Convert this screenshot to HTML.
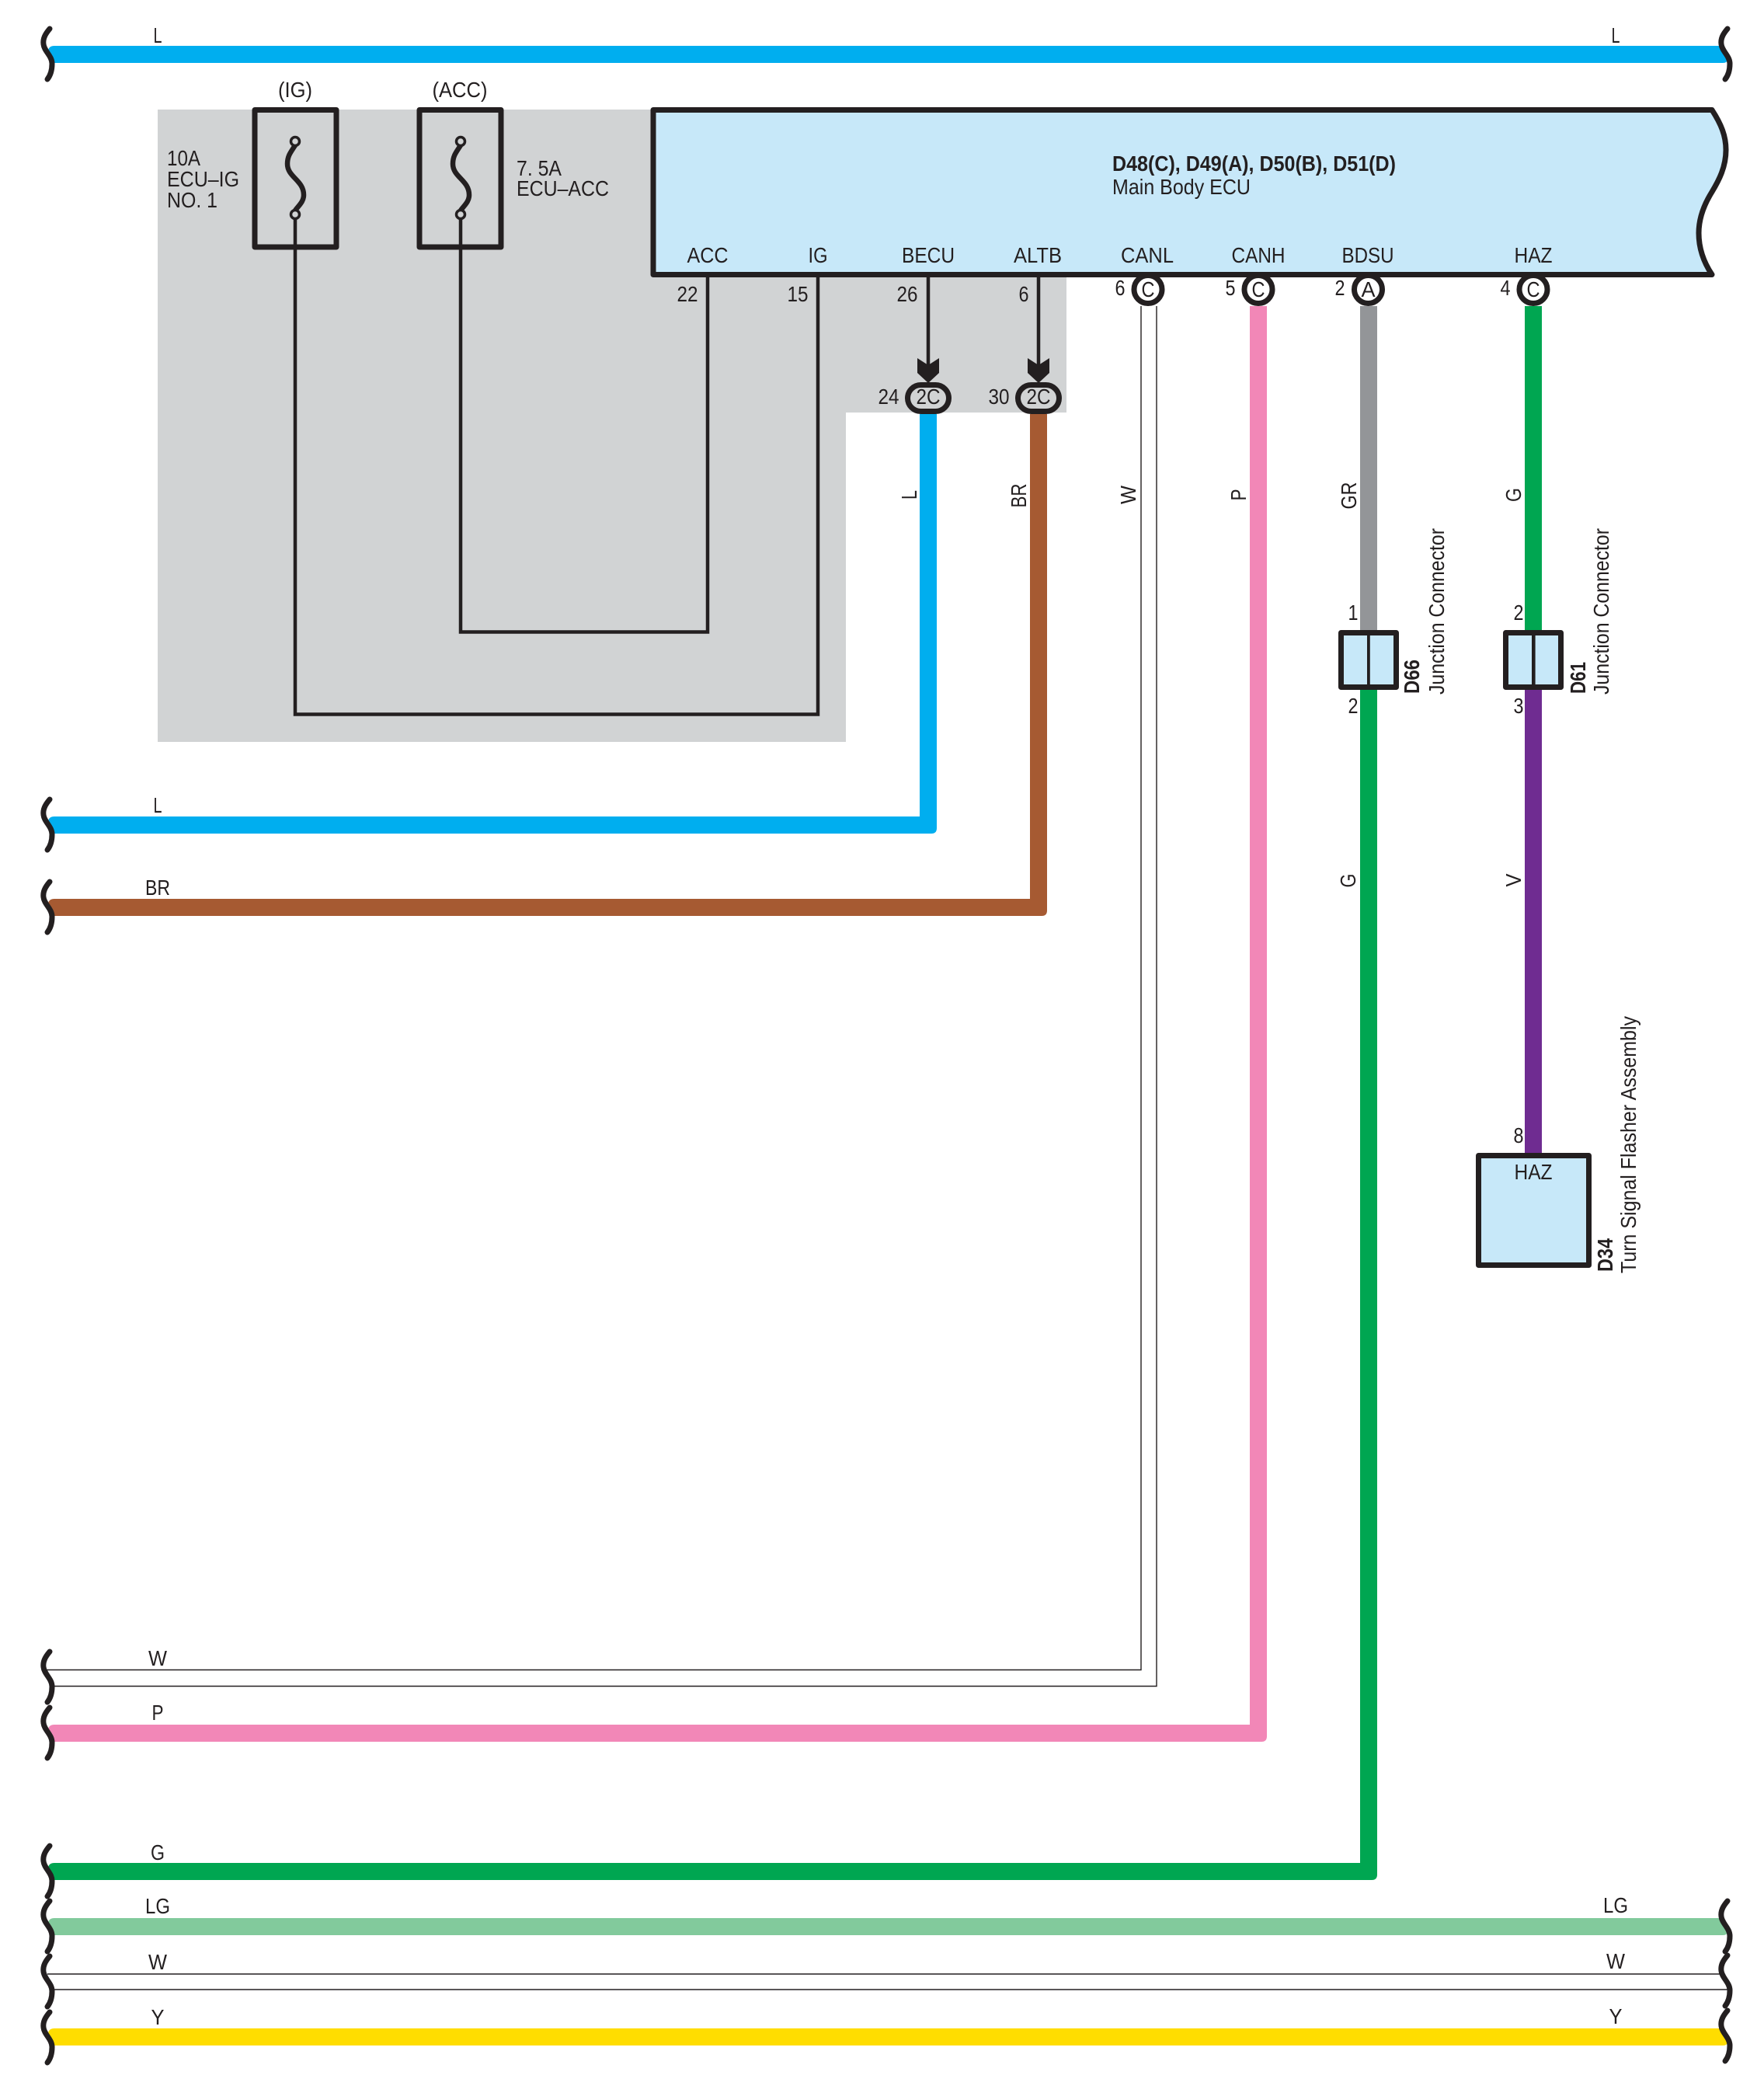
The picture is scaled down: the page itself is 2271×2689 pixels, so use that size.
<!DOCTYPE html>
<html>
<head>
<meta charset="utf-8">
<style>
html,body{margin:0;padding:0;background:#fff;}
svg{display:block;}
text{font-family:"Liberation Sans",sans-serif;font-size:27.5px;fill:#231f20;}
.m{text-anchor:middle;}
.b{font-weight:bold;}
</style>
</head>
<body>
<svg xmlns="http://www.w3.org/2000/svg" width="2271" height="2689" viewBox="0 0 2271 2689">
<defs>
<path id="sq" d="M64 -33C58 -26 55 -20 56 -13C57 -4 67 2 67 12C67 20 65 27 61 32" fill="none" stroke="#231f20" stroke-width="7" stroke-linecap="round"/>
</defs>
<rect width="2271" height="2689" fill="#fff"/>
<polygon points="203,141 845,141 845,355 1373,355 1373,531 1089,531 1089,955 203,955" fill="#d1d3d4"/>

<!-- horizontal through wires -->
<path d="M70 59H2216L2224 76Q2224 81 2218 81H68L62 65Q63 59 70 59Z" fill="#00aeef"/>
<path d="M70 2469H2216L2224 2486Q2224 2491 2218 2491H68L62 2475Q63 2469 70 2469Z" fill="#82ca9c"/>
<path d="M70 2611H2216L2224 2628Q2224 2633 2218 2633H68L62 2617Q63 2611 70 2611Z" fill="#ffdd00"/>

<!-- turning wires -->
<path d="M1184 533V1051H70Q63 1051 62 1057L68 1073H1199Q1206 1073 1206 1066V533Z" fill="#00aeef"/>
<path d="M1326 533V1157H70Q63 1157 62 1163L68 1179H1341Q1348 1179 1348 1172V533Z" fill="#a65a32"/>
<path d="M1609 394V2220H70Q63 2220 62 2226L68 2242H1624Q1631 2242 1631 2235V394Z" fill="#f287b7"/>
<path d="M1751 888V2398H70Q63 2398 62 2404L68 2420H1766Q1773 2420 1773 2413V888Z" fill="#00a651"/>
<rect x="1751" y="394" width="22" height="422" fill="#939598"/>
<rect x="1963" y="394" width="22" height="422" fill="#00a651"/>
<rect x="1963" y="888" width="22" height="602" fill="#6f2c91"/>

<!-- white thin wires -->
<g fill="none" stroke="#231f20" stroke-width="1.4">
<path d="M1469 394V2149.5H60"/>
<path d="M1489 394V2170.5H69"/>
<path d="M61 2541H2216"/>
<path d="M69 2561H2227"/>
</g>

<!-- inner black wires -->
<g fill="none" stroke="#231f20" stroke-width="4.5">
<path d="M380 282V919.5H1053V355"/>
<path d="M593 282V813.5H911V355"/>
<path d="M1195 355V480"/>
<path d="M1337 355V480"/>
</g>

<!-- fuses -->
<g fill="none" stroke="#231f20">
<rect x="328" y="141.5" width="105" height="176.5" stroke-width="7" stroke-linejoin="round"/>
<rect x="540" y="141.5" width="105" height="176.5" stroke-width="7" stroke-linejoin="round"/>
<path d="M380 187C375 195 370 200 370 211C370 228 391 232 391 251C391 260 384 265 380 271" stroke-width="6.5"/>
<path d="M593 187C588 195 583 200 583 211C583 228 604 232 604 251C604 260 597 265 593 271" stroke-width="6.5"/>
<ellipse cx="380" cy="182" rx="5.5" ry="5.5" stroke-width="3.5"/>
<ellipse cx="380" cy="276" rx="5.5" ry="5.5" stroke-width="3.5"/>
<ellipse cx="593" cy="182" rx="5.5" ry="5.5" stroke-width="3.5"/>
<ellipse cx="593" cy="276" rx="5.5" ry="5.5" stroke-width="3.5"/>
</g>

<!-- ECU -->
<path d="M841 141.5H2204C2216 160 2222 175 2222 193C2222 215 2213 232 2204 247C2194 263 2187 280 2187 300C2187 320 2193 337 2204 353.5H841Z" fill="#c7e8f9" stroke="#231f20" stroke-width="7" stroke-linejoin="round"/>

<!-- inline connector circles -->
<g fill="#fff" stroke="#231f20" stroke-width="7">
<circle cx="1478" cy="372.5" r="18"/>
<circle cx="1620" cy="372.5" r="18"/>
<circle cx="1761.5" cy="372.5" r="18"/>
<circle cx="1974" cy="372.5" r="18"/>
</g>
<rect x="1440" y="350" width="560" height="7" fill="#231f20"/>

<!-- arrows + ovals -->
<g fill="#231f20">
<polygon points="1181,461 1195,470 1209,461 1209,480 1195,493 1181,480"/>
<polygon points="1323,461 1337,470 1351,461 1351,480 1337,493 1323,480"/>
</g>
<g fill="#d1d3d4" stroke="#231f20" stroke-width="7">
<rect x="1168.5" y="495.5" width="53" height="34" rx="17"/>
<rect x="1310.5" y="495.5" width="53" height="34" rx="17"/>
</g>

<!-- junction boxes -->
<g fill="#c7e8f9" stroke="#231f20" stroke-linejoin="round">
<rect x="1726.5" y="814.5" width="71" height="70" stroke-width="7"/>
<rect x="1938.5" y="814.5" width="71" height="70" stroke-width="7"/>
<rect x="1903.5" y="1487.5" width="142" height="141" stroke-width="7"/>
</g>
<rect x="1760" y="814" width="3.8" height="70" fill="#231f20"/>
<rect x="1972" y="814" width="4.6" height="70" fill="#231f20"/>

<!-- squiggles -->
<use href="#sq" y="70"/><use href="#sq" y="1062"/><use href="#sq" y="1168"/>
<use href="#sq" y="2159"/><use href="#sq" y="2231"/><use href="#sq" y="2409"/>
<use href="#sq" y="2480"/><use href="#sq" y="2551"/><use href="#sq" y="2623"/>
<use href="#sq" x="2160" y="70"/><use href="#sq" x="2160" y="2480"/>
<use href="#sq" x="2160" y="2550"/><use href="#sq" x="2160" y="2621"/>

<!-- horizontal wire labels -->
<g class="m">
<text class="m" x="203" y="55" textLength="11" lengthAdjust="spacingAndGlyphs">L</text>
<text class="m" x="2080" y="55" textLength="11" lengthAdjust="spacingAndGlyphs">L</text>
<text class="m" x="203" y="1046" textLength="11" lengthAdjust="spacingAndGlyphs">L</text>
<text class="m" x="203" y="1152" textLength="32" lengthAdjust="spacingAndGlyphs">BR</text>
<text class="m" x="203" y="2144" textLength="24" lengthAdjust="spacingAndGlyphs">W</text>
<text class="m" x="203" y="2214" textLength="15" lengthAdjust="spacingAndGlyphs">P</text>
<text class="m" x="203" y="2394" textLength="18" lengthAdjust="spacingAndGlyphs">G</text>
<text class="m" x="203" y="2463" textLength="32" lengthAdjust="spacingAndGlyphs">LG</text>
<text class="m" x="203" y="2535" textLength="24" lengthAdjust="spacingAndGlyphs">W</text>
<text class="m" x="203" y="2606" textLength="17" lengthAdjust="spacingAndGlyphs">Y</text>
<text class="m" x="2080" y="2462" textLength="32" lengthAdjust="spacingAndGlyphs">LG</text>
<text class="m" x="2080" y="2534" textLength="24" lengthAdjust="spacingAndGlyphs">W</text>
<text class="m" x="2080" y="2605" textLength="17" lengthAdjust="spacingAndGlyphs">Y</text>
</g>

<!-- fuse labels -->
<text class="m" x="380" y="125" textLength="44" lengthAdjust="spacingAndGlyphs">(IG)</text>
<text class="m" x="592" y="125" textLength="71" lengthAdjust="spacingAndGlyphs">(ACC)</text>
<text x="215" y="213" textLength="43" lengthAdjust="spacingAndGlyphs">10A</text>
<text x="215" y="240" textLength="93" lengthAdjust="spacingAndGlyphs">ECU–IG</text>
<text x="215" y="267" textLength="65" lengthAdjust="spacingAndGlyphs">NO. 1</text>
<text x="665" y="226" textLength="58" lengthAdjust="spacingAndGlyphs">7. 5A</text>
<text x="665" y="252" textLength="119" lengthAdjust="spacingAndGlyphs">ECU–ACC</text>

<!-- ECU title -->
<text class="b" x="1432" y="220" textLength="365" lengthAdjust="spacingAndGlyphs">D48(C), D49(A), D50(B), D51(D)</text>
<text x="1432" y="250" textLength="178" lengthAdjust="spacingAndGlyphs">Main Body ECU</text>

<!-- ECU pins -->
<text class="m" x="911" y="338" textLength="53" lengthAdjust="spacingAndGlyphs">ACC</text>
<text class="m" x="1053" y="338" textLength="25" lengthAdjust="spacingAndGlyphs">IG</text>
<text class="m" x="1195" y="338" textLength="68" lengthAdjust="spacingAndGlyphs">BECU</text>
<text class="m" x="1336" y="338" textLength="62" lengthAdjust="spacingAndGlyphs">ALTB</text>
<text class="m" x="1477" y="338" textLength="68" lengthAdjust="spacingAndGlyphs">CANL</text>
<text class="m" x="1620" y="338" textLength="69" lengthAdjust="spacingAndGlyphs">CANH</text>
<text class="m" x="1761" y="338" textLength="67" lengthAdjust="spacingAndGlyphs">BDSU</text>
<text class="m" x="1974" y="338" textLength="49" lengthAdjust="spacingAndGlyphs">HAZ</text>

<text class="m" x="885" y="388" textLength="27" lengthAdjust="spacingAndGlyphs">22</text>
<text class="m" x="1027" y="388" textLength="27" lengthAdjust="spacingAndGlyphs">15</text>
<text class="m" x="1168" y="388" textLength="27" lengthAdjust="spacingAndGlyphs">26</text>
<text class="m" x="1318" y="388" textLength="13" lengthAdjust="spacingAndGlyphs">6</text>
<text class="m" x="1442" y="380" textLength="13" lengthAdjust="spacingAndGlyphs">6</text>
<text class="m" x="1584" y="380" textLength="13" lengthAdjust="spacingAndGlyphs">5</text>
<text class="m" x="1725" y="380" textLength="13" lengthAdjust="spacingAndGlyphs">2</text>
<text class="m" x="1938" y="380" textLength="13" lengthAdjust="spacingAndGlyphs">4</text>
<text class="m" x="1478" y="382" textLength="17" lengthAdjust="spacingAndGlyphs">C</text>
<text class="m" x="1620" y="382" textLength="17" lengthAdjust="spacingAndGlyphs">C</text>
<text class="m" x="1761.5" y="382" textLength="18" lengthAdjust="spacingAndGlyphs">A</text>
<text class="m" x="1974" y="382" textLength="17" lengthAdjust="spacingAndGlyphs">C</text>

<text class="m" x="1144" y="520" textLength="27" lengthAdjust="spacingAndGlyphs">24</text>
<text class="m" x="1286" y="520" textLength="27" lengthAdjust="spacingAndGlyphs">30</text>
<text class="m" x="1195" y="520" textLength="31" lengthAdjust="spacingAndGlyphs">2C</text>
<text class="m" x="1337" y="520" textLength="31" lengthAdjust="spacingAndGlyphs">2C</text>

<!-- rotated wire labels -->
<text class="m" transform="translate(1180,637) rotate(-90)" textLength="12" lengthAdjust="spacingAndGlyphs">L</text>
<text class="m" transform="translate(1321,638) rotate(-90)" textLength="31" lengthAdjust="spacingAndGlyphs">BR</text>
<text class="m" transform="translate(1462,637) rotate(-90)" textLength="24" lengthAdjust="spacingAndGlyphs">W</text>
<text class="m" transform="translate(1604,637) rotate(-90)" textLength="15" lengthAdjust="spacingAndGlyphs">P</text>
<text class="m" transform="translate(1746,638) rotate(-90)" textLength="35" lengthAdjust="spacingAndGlyphs">GR</text>
<text class="m" transform="translate(1958,637) rotate(-90)" textLength="18" lengthAdjust="spacingAndGlyphs">G</text>
<text class="m" transform="translate(1745,1133.5) rotate(-90)" textLength="18" lengthAdjust="spacingAndGlyphs">G</text>
<text class="m" transform="translate(1958,1133) rotate(-90)" textLength="17" lengthAdjust="spacingAndGlyphs">V</text>

<!-- junction pins -->
<text class="m" x="1742" y="798" textLength="13" lengthAdjust="spacingAndGlyphs">1</text>
<text class="m" x="1955" y="798" textLength="13" lengthAdjust="spacingAndGlyphs">2</text>
<text class="m" x="1742" y="918" textLength="13" lengthAdjust="spacingAndGlyphs">2</text>
<text class="m" x="1955" y="918" textLength="13" lengthAdjust="spacingAndGlyphs">3</text>
<text class="m" x="1955" y="1471" textLength="13" lengthAdjust="spacingAndGlyphs">8</text>
<text class="m" x="1974" y="1518" textLength="49" lengthAdjust="spacingAndGlyphs">HAZ</text>

<!-- rotated component labels -->
<text class="b" transform="translate(1827,893) rotate(-90)" textLength="44" lengthAdjust="spacingAndGlyphs">D66</text>
<text transform="translate(1859,894) rotate(-90)" textLength="214" lengthAdjust="spacingAndGlyphs">Junction Connector</text>
<text class="b" transform="translate(2041,893) rotate(-90)" textLength="41" lengthAdjust="spacingAndGlyphs">D61</text>
<text transform="translate(2071,894) rotate(-90)" textLength="214" lengthAdjust="spacingAndGlyphs">Junction Connector</text>
<text class="b" transform="translate(2076,1637) rotate(-90)" textLength="43" lengthAdjust="spacingAndGlyphs">D34</text>
<text transform="translate(2106,1639) rotate(-90)" textLength="331" lengthAdjust="spacingAndGlyphs">Turn Signal Flasher Assembly</text>
</svg>
</body>
</html>
